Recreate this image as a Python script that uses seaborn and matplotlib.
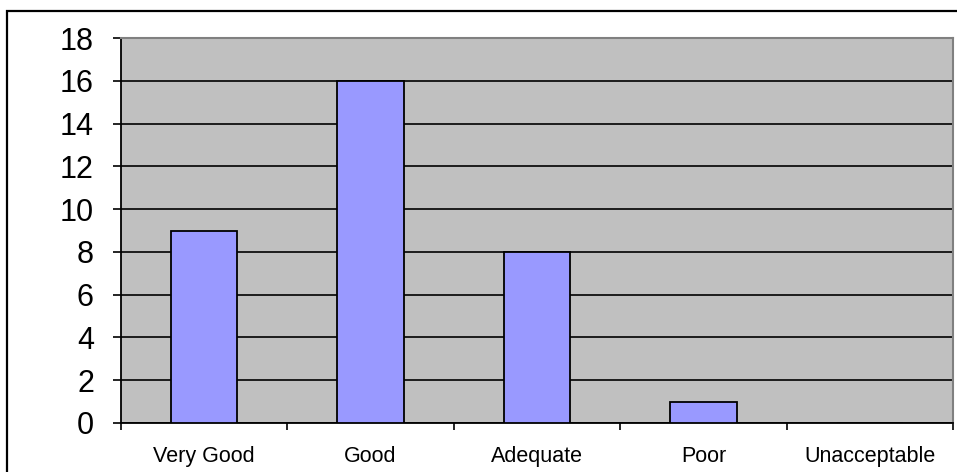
import matplotlib
matplotlib.use("Agg")
import matplotlib.pyplot as plt
import seaborn as sns
import pandas as pd
import numpy as np
from matplotlib.patches import Rectangle
from matplotlib.ticker import FixedLocator

categories = ["Very Good", "Good", "Adequate", "Poor", "Unacceptable"]
values = [9, 16, 8, 1, 0]
y_ticks = [0, 2, 4, 6, 8, 10, 12, 14, 16, 18]

sns.set_style("white")
plt.rcParams['font.family'] = ['Liberation Sans', 'DejaVu Sans']

df = pd.DataFrame({"cat": categories, "val": values})

fig = plt.figure(figsize=(9.57, 4.72), dpi=100)
ax = fig.add_axes([121/957, 49/472, 832/957, 385/472])
ax.set_facecolor("#C0C0C0")

sns.barplot(data=df, x="cat", y="val", color="#9999FF", saturation=1,
            width=0.4, edgecolor="black", linewidth=1.3, ax=ax, zorder=3)

ax.set_ylim(0, 18)
ax.set_xlim(-0.5, len(categories) - 0.5)
ax.set_yticks(y_ticks)
ax.yaxis.grid(True, color="black", linewidth=1.2, zorder=1)
ax.set_axisbelow(True)
ax.set_xlabel("")
ax.set_ylabel("")

for s in ["left", "bottom"]:
    ax.spines[s].set_color("black")
    ax.spines[s].set_linewidth(1.3)
for s in ["top", "right"]:
    ax.spines[s].set_color("#808080")
    ax.spines[s].set_linewidth(1.5)

ax.tick_params(axis="y", length=6, width=1.2, color="black", pad=13.5,
               labelsize=22, left=True, labelcolor="black")
ax.tick_params(axis="x", which="major", length=0, pad=16.5, labelsize=15.5,
               labelcolor="black")
ax.xaxis.set_minor_locator(FixedLocator(np.arange(-0.5, len(categories), 1.0)))
ax.tick_params(axis="x", which="minor", length=5, width=1.2, color="black", bottom=True)

fig.patches.append(Rectangle((7/957, -0.2), 1.2, 1 - 11/472 + 0.2,
                             transform=fig.transFigure, fill=False,
                             edgecolor="black", linewidth=1.6, zorder=10))

fig.savefig("out.png", dpi=100)
